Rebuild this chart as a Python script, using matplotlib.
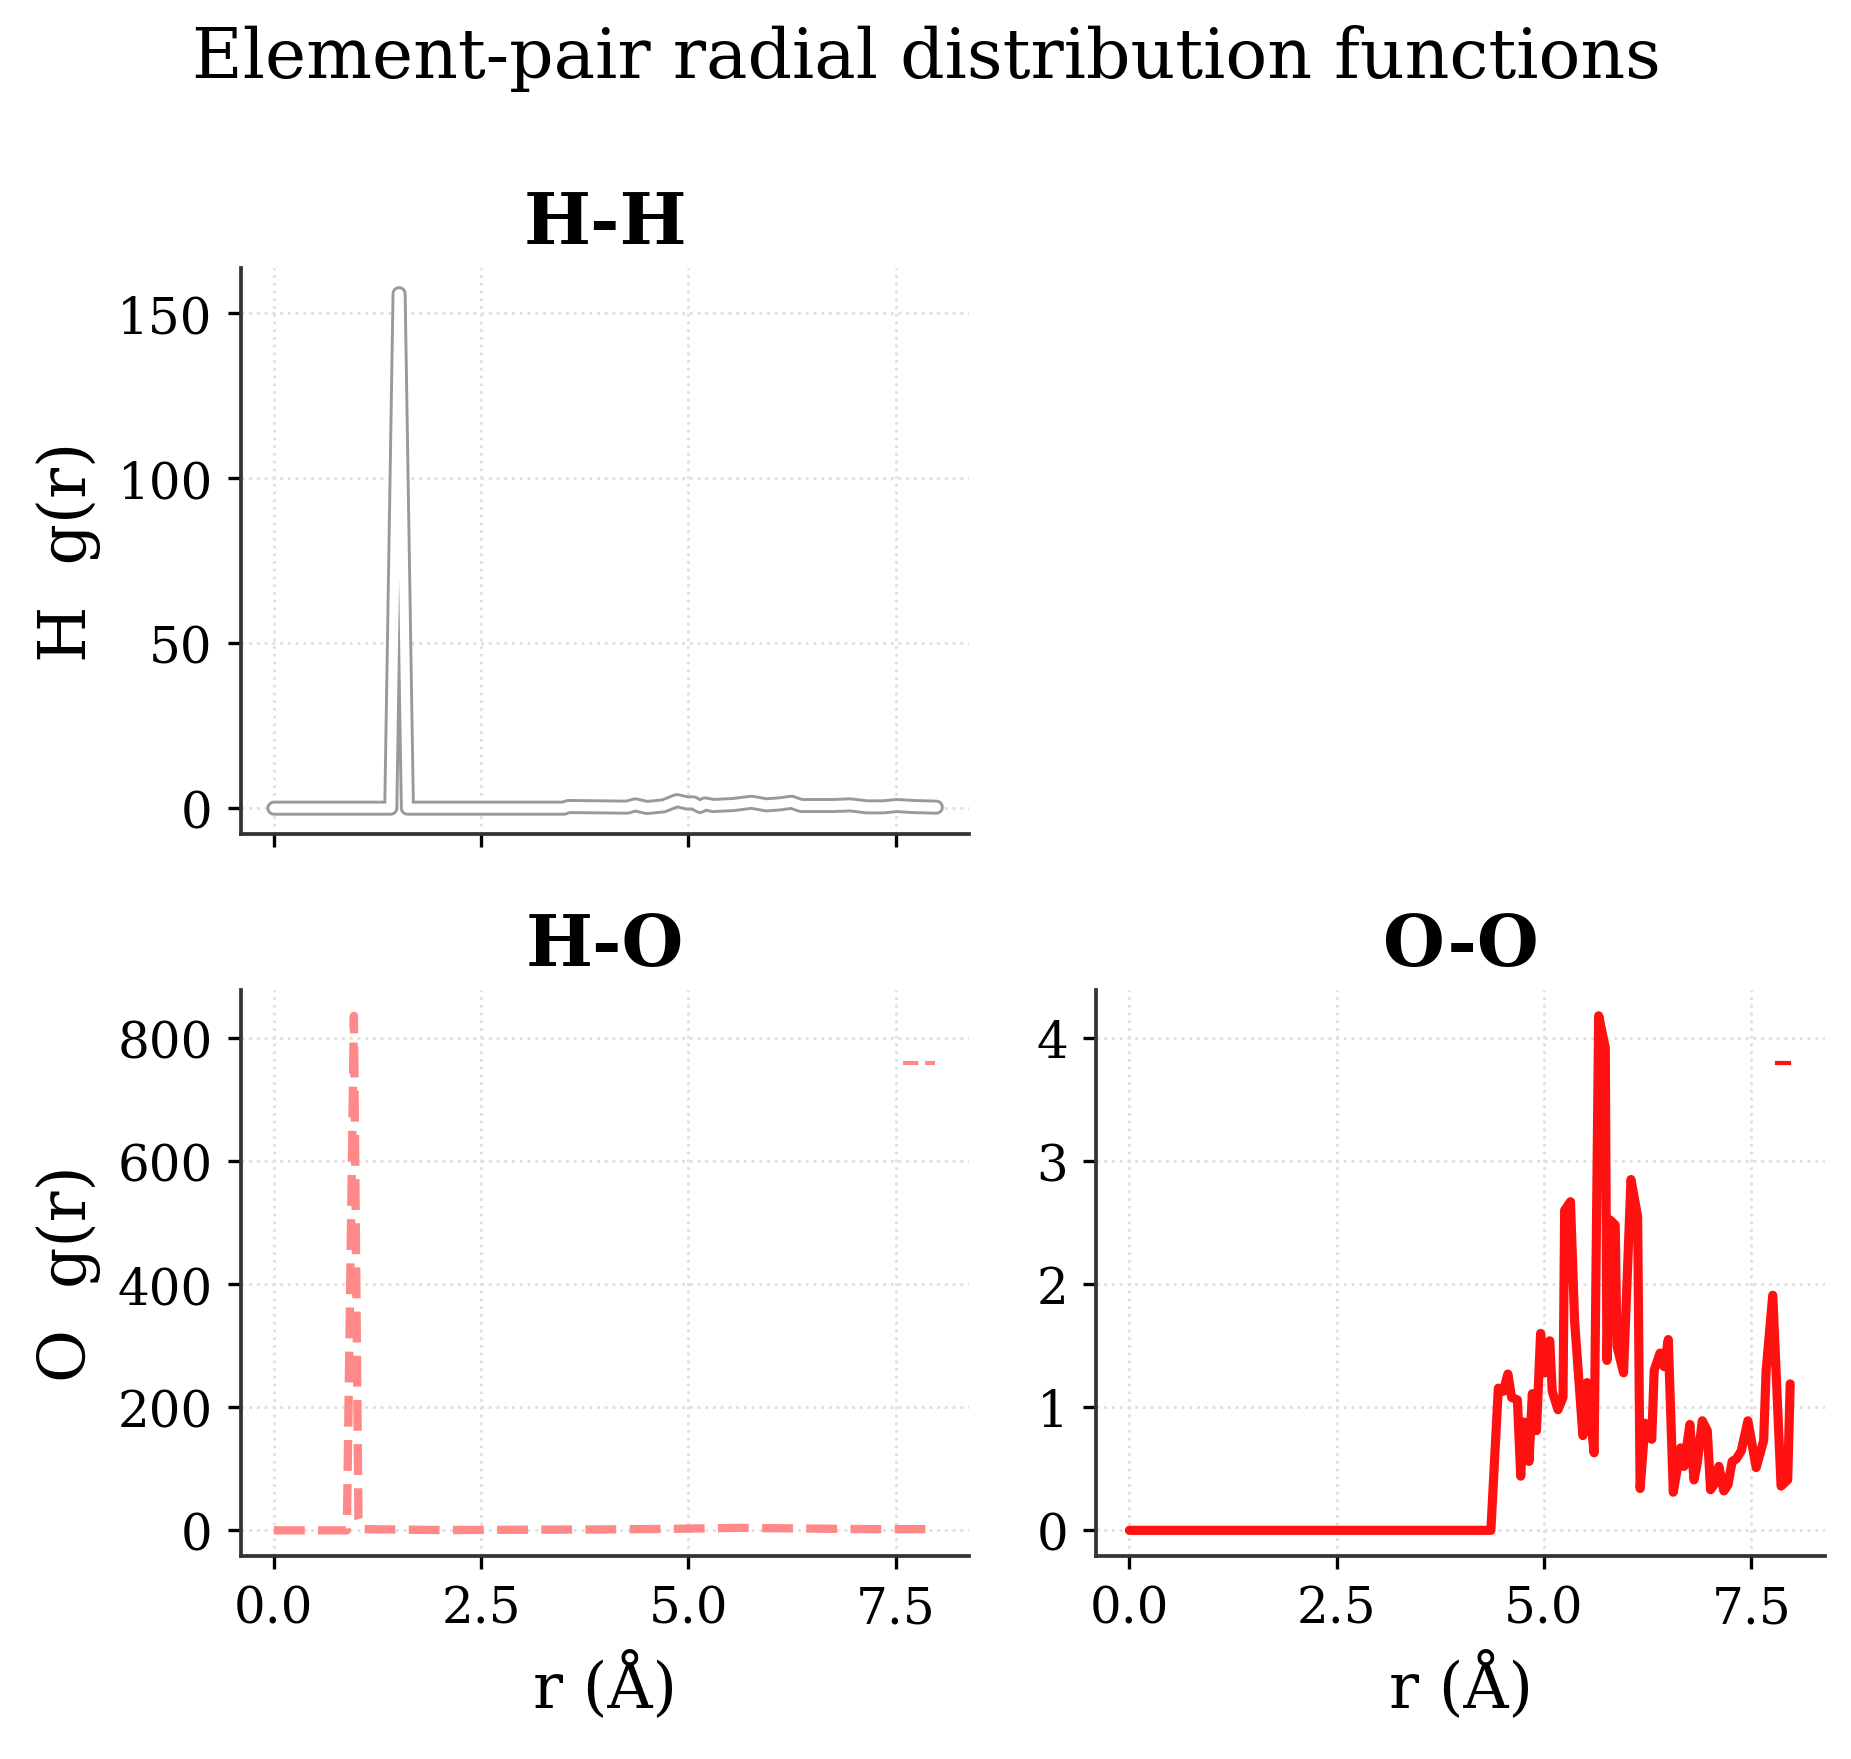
import matplotlib
matplotlib.use("Agg")
import matplotlib.pyplot as plt
import matplotlib.patheffects as pe
from matplotlib.lines import Line2D

plt.rcParams['font.family'] = ['DejaVu Serif']

# H-H pair
r_hh = [0, 1.41, 1.51, 1.61, 3.50, 3.55, 3.94, 4.26, 4.36, 4.50, 4.70, 4.86, 4.98, 5.06,
        5.14, 5.20, 5.30, 5.54, 5.76, 5.94, 6.10, 6.24, 6.36, 6.75, 6.95, 7.15, 7.35,
        7.51, 7.71, 7.99]
g_hh = [0, 0, 156, 0, 0, 0.5, 0.4, 0.3, 1.0, 0.2, 0.7, 2.3, 1.6, 1.6,
        0.5, 1.3, 0.8, 1.1, 1.8, 1.0, 1.3, 1.8, 0.8, 0.8, 1.0, 0.4, 0.4,
        0.8, 0.5, 0.3]

# H-O pair
r_ho = [0, 0.88, 0.965, 1.02, 1.06, 2.0, 3.0, 4.0, 4.8, 5.6, 6.4, 7.2, 7.97]
g_ho = [0, 0, 836, 20, 2, 0.5, 1, 1.5, 2.5, 4, 3, 2, 2]

# O-O pair
r_oo = [0, 4.36, 4.45, 4.51, 4.565, 4.61, 4.68, 4.72, 4.75, 4.79, 4.82, 4.86, 4.91, 4.96,
        5.01, 5.07, 5.10, 5.17, 5.23, 5.25, 5.32, 5.37, 5.47, 5.52, 5.605, 5.66, 5.74,
        5.76, 5.80, 5.86, 5.88, 5.96, 6.05, 6.13, 6.16, 6.22, 6.30, 6.33, 6.40, 6.45,
        6.50, 6.56, 6.65, 6.69, 6.76, 6.81, 6.85, 6.91, 6.97, 7.01, 7.05, 7.11, 7.17,
        7.22, 7.27, 7.32, 7.38, 7.46, 7.56, 7.65, 7.68, 7.76, 7.86, 7.94, 7.97]
g_oo = [0, 0, 1.155, 1.13, 1.27, 1.08, 1.06, 0.44, 0.88, 0.87, 0.56, 1.11, 0.81, 1.60,
        1.28, 1.54, 1.13, 0.98, 1.08, 2.60, 2.67, 1.70, 0.77, 1.20, 0.63, 4.18, 3.92,
        1.38, 2.52, 2.48, 1.50, 1.28, 2.85, 2.55, 0.34, 0.87, 0.74, 1.30, 1.44, 1.33,
        1.55, 0.31, 0.67, 0.52, 0.86, 0.41, 0.55, 0.89, 0.81, 0.33, 0.37, 0.52, 0.32,
        0.37, 0.56, 0.58, 0.645, 0.89, 0.51, 0.73, 1.30, 1.91, 0.36, 0.41, 1.19]

grey = '#999999'
c_ho = '#ff8888'
c_oo = '#ff1111'

fig, axes = plt.subplots(2, 2, figsize=(1852 / 300, 1760 / 300), dpi=300, sharex=True)
fig.subplots_adjust(left=0.130, right=0.9854, top=0.8472, bottom=0.1153,
                    wspace=0.174, hspace=0.276)

ax_hh = axes[0, 0]
ax_ho = axes[1, 0]
ax_oo = axes[1, 1]
axes[0, 1].axis('off')

ax_hh.plot(r_hh, g_hh, color='white', lw=2.2, solid_capstyle='round',
           path_effects=[pe.Stroke(linewidth=3.6, foreground=grey, capstyle='round'), pe.Normal()])
ax_ho.plot(r_ho, g_ho, color=c_ho, lw=2.0, ls='--')
ax_oo.plot(r_oo, g_oo, color=c_oo, lw=2.2, solid_capstyle='round')

for ax, title in [(ax_hh, 'H-H'), (ax_ho, 'H-O'), (ax_oo, 'O-O')]:
    ax.set_title(title, fontsize=17, fontweight='bold')
    ax.grid(True, ls=':', lw=0.7, color='#e0e0e0')
    ax.set_axisbelow(True)
    for s in ['top', 'right']:
        ax.spines[s].set_visible(False)
    for s in ['left', 'bottom']:
        ax.spines[s].set_color('#333333')
        ax.spines[s].set_linewidth(0.9)
    ax.tick_params(labelsize=12, length=3.2, width=0.8, color='black')

ax_ho.set_xticks([0, 2.5, 5.0, 7.5])

ax_hh.set_ylabel('H  g(r)', fontsize=15.5)
ax_ho.set_ylabel('O  g(r)', fontsize=15.5)
ax_ho.set_xlabel('r (Å)', fontsize=15)
ax_oo.set_xlabel('r (Å)', fontsize=15)

ax_ho.legend([Line2D([], [], color=c_ho, lw=1.0, ls='--')], [''], loc='center right',
             bbox_to_anchor=(1.021, 0.867), borderaxespad=0, frameon=False, handlelength=0.77)
ax_oo.legend([Line2D([], [], color=c_oo, lw=1.0)], [''], loc='center right',
             bbox_to_anchor=(1.019, 0.867), borderaxespad=0, frameon=False, handlelength=0.28)

fig.suptitle('Element-pair radial distribution functions', fontsize=16.7, y=0.9665, va='center')

fig.savefig('out.png', dpi=300)
